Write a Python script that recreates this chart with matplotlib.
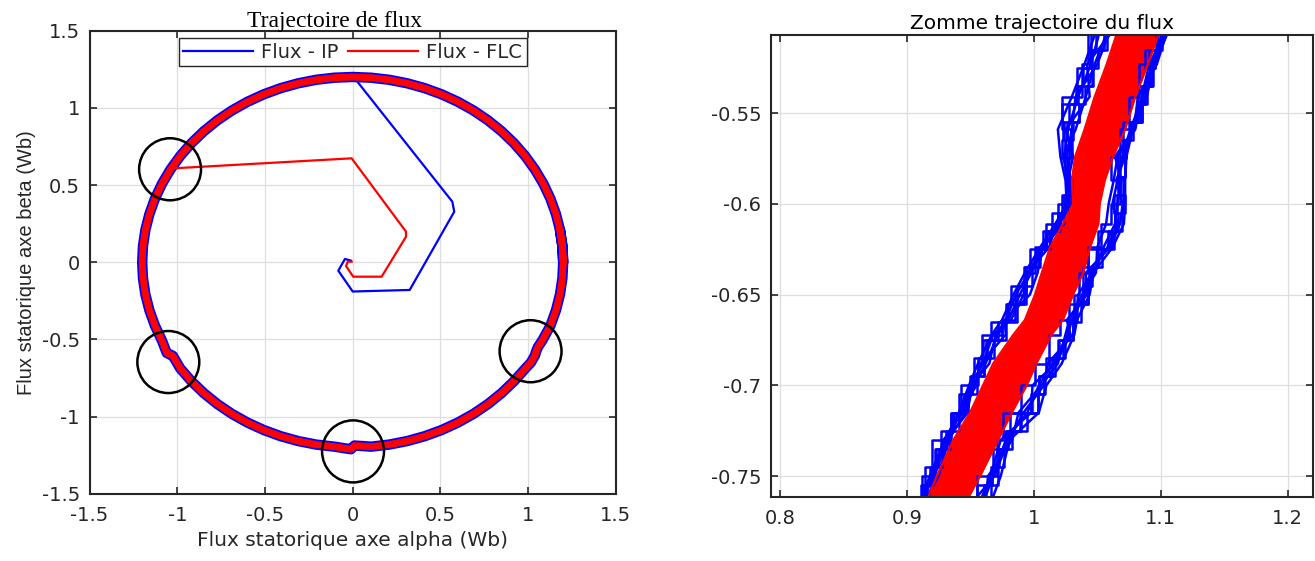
import matplotlib
matplotlib.use("Agg")
import matplotlib.pyplot as plt
from matplotlib.patches import Ellipse
from matplotlib.ticker import FormatStrFormatter

plt.rcParams['font.family'] = ['DejaVu Sans']
plt.rcParams['axes.unicode_minus'] = False

# ---------------- data ----------------
# steady-state stator flux orbit (alpha, beta) in Wb, one turn plus a short overlap
ring_alpha = [1.2000, 1.1954, 1.1818, 1.1591, 1.1276, 1.0876, 1.0392, 0.9830, 0.9193, 0.8485,
              0.7713, 0.6883, 0.6000, 0.5071, 0.4104, 0.3106, 0.2084, 0.1046, 0.0000,
              -0.1046, -0.2084, -0.3106, -0.4104, -0.5071, -0.6000, -0.6883, -0.7713,
              -0.8485, -0.9193, -0.9830, -1.0392, -1.0876, -1.1276, -1.1591, -1.1818,
              -1.1954, -1.2000, -1.1954, -1.1818, -1.1591, -1.1276, -1.0876,
              -1.060, -1.048, -1.025,
              -0.9830, -0.9193, -0.8485, -0.7713, -0.6883, -0.6000, -0.5071, -0.4104,
              -0.3106, -0.2084, -0.1046,
              -0.010, 0.010,
              0.1046, 0.2084, 0.3106, 0.4104, 0.5071, 0.6000, 0.6883, 0.7713, 0.8485, 0.9193,
              0.985, 1.016, 1.041, 1.043, 1.047, 1.056, 1.082,
              1.1276, 1.1591, 1.1818, 1.1954, 1.2000, 1.1954, 1.1818]
ring_beta = [0.0000, 0.1046, 0.2084, 0.3106, 0.4104, 0.5071, 0.6000, 0.6883, 0.7713, 0.8485,
             0.9193, 0.9830, 1.0392, 1.0876, 1.1276, 1.1591, 1.1818, 1.1954, 1.2000,
             1.1954, 1.1818, 1.1591, 1.1276, 1.0876, 1.0392, 0.9830, 0.9193,
             0.8485, 0.7713, 0.6883, 0.6000, 0.5071, 0.4104, 0.3106, 0.2084,
             0.1046, 0.0000, -0.1046, -0.2084, -0.3106, -0.4104, -0.5071,
             -0.588, -0.595, -0.607,
             -0.6883, -0.7713, -0.8485, -0.9193, -0.9830, -1.0392, -1.0876, -1.1276,
             -1.1591, -1.1818, -1.1954,
             -1.212, -1.188,
             -1.1954, -1.1818, -1.1591, -1.1276, -1.0876, -1.0392, -0.9830, -0.9193, -0.8485, -0.7713,
             -0.688, -0.650, -0.600, -0.587, -0.574, -0.550, -0.505,
             -0.4104, -0.3106, -0.2084, -0.1046, 0.0000, 0.1046, 0.2084]

# start-up transients
ip_start_alpha = [-0.010, -0.044, -0.082, 0.000, 0.325, 0.579, 0.568, 0.016]
ip_start_beta = [0.010, 0.021, -0.055, -0.190, -0.180, 0.327, 0.392, 1.185]
flc_start_alpha = [-0.006, -0.028, -0.038, 0.003, 0.165, 0.304, 0.304, -0.006, -1.023]
flc_start_beta = [0.003, 0.003, -0.025, -0.094, -0.094, 0.165, 0.198, 0.673, 0.608]

# highlighted sector changes
mark_alpha = [-1.041, -1.051, 0.002, 1.014]
mark_beta = [0.602, -0.647, -1.226, -0.577]

# zoomed region around the 330 degree sector change
zoom_beta = [-0.765, -0.750, -0.730, -0.715, -0.700, -0.688, -0.672, -0.664, -0.650, -0.638,
             -0.624, -0.611, -0.600, -0.587, -0.574, -0.559, -0.541, -0.523, -0.505]
flc_left = [0.915, 0.9236, 0.9367, 0.9498, 0.960, 0.968, 0.984, 0.993, 1.001, 1.0063,
            1.0128, 1.023, 1.031, 1.030, 1.0326, 1.040, 1.048, 1.0575, 1.066]
flc_right = [0.946, 0.9577, 0.972, 0.9827, 0.9945, 1.002, 1.014, 1.023, 1.031, 1.039,
             1.0443, 1.051, 1.052, 1.056, 1.0625, 1.072, 1.080, 1.090, 1.099]
ip_inner_traces = [
    [0.910, 0.918, 0.930, 0.941, 0.949, 0.956, 0.967, 0.975, 0.984, 0.993,
     1.005, 1.017, 1.026, 1.025, 1.021, 1.019, 1.030, 1.040, 1.049],
    [0.913, 0.925, 0.933, 0.946, 0.953, 0.962, 0.972, 0.980, 0.989, 0.998,
     1.008, 1.020, 1.028, 1.026, 1.024, 1.027, 1.035, 1.045, 1.052],
    [0.912, 0.920, 0.935, 0.943, 0.956, 0.959, 0.975, 0.985, 0.994, 1.001,
     1.010, 1.019, 1.029, 1.027, 1.029, 1.022, 1.038, 1.043, 1.055],
    [0.916, 0.922, 0.931, 0.948, 0.951, 0.965, 0.970, 0.978, 0.986, 0.996,
     1.006, 1.021, 1.027, 1.028, 1.023, 1.033, 1.041, 1.048, 1.058],
    [0.911, 0.921, 0.929, 0.944, 0.950, 0.960, 0.968, 0.982, 0.992, 0.995,
     1.012, 1.018, 1.030, 1.029, 1.026, 1.030, 1.033, 1.050, 1.060],
    [0.914, 0.919, 0.934, 0.941, 0.955, 0.958, 0.978, 0.977, 0.997, 1.003,
     1.007, 1.024, 1.025, 1.027, 1.031, 1.025, 1.044, 1.042, 1.062],
]
ip_outer_traces = [
    [0.966, 0.974, 0.981, 1.004, 1.010, 1.022, 1.032, 1.034, 1.044, 1.047,
     1.062, 1.071, 1.072, 1.072, 1.073, 1.078, 1.089, 1.095, 1.106],
    [0.960, 0.968, 0.978, 0.995, 1.004, 1.015, 1.027, 1.030, 1.040, 1.045,
     1.058, 1.066, 1.062, 1.066, 1.070, 1.076, 1.086, 1.093, 1.102],
    [0.955, 0.971, 0.976, 0.990, 1.001, 1.012, 1.021, 1.032, 1.036, 1.043,
     1.053, 1.061, 1.068, 1.061, 1.068, 1.075, 1.083, 1.096, 1.100],
    [0.962, 0.964, 0.983, 0.988, 1.006, 1.019, 1.025, 1.028, 1.038, 1.049,
     1.050, 1.057, 1.059, 1.063, 1.066, 1.080, 1.085, 1.091, 1.104],
    [0.957, 0.966, 0.974, 0.998, 0.999, 1.017, 1.029, 1.026, 1.042, 1.041,
     1.060, 1.068, 1.070, 1.065, 1.072, 1.077, 1.088, 1.094, 1.103],
    [0.951, 0.969, 0.980, 0.992, 1.008, 1.011, 1.031, 1.033, 1.035, 1.046,
     1.055, 1.064, 1.066, 1.069, 1.064, 1.079, 1.082, 1.097, 1.105],
]
# finely sampled switching traces (stair-like)
fine_beta = [-0.765, -0.755, -0.745, -0.735, -0.725, -0.715, -0.705, -0.695, -0.685,
             -0.675, -0.665, -0.655, -0.645, -0.635, -0.625, -0.615, -0.605, -0.595,
             -0.585, -0.575, -0.565, -0.555, -0.545, -0.535, -0.525, -0.515, -0.505]
ip_fine_traces = [
    [0.909, 0.916, 0.921, 0.929, 0.933, 0.942, 0.948, 0.954, 0.958, 0.968, 0.976, 0.984,
     0.989, 0.999, 1.005, 1.015, 1.023, 1.027, 1.026, 1.023, 1.021, 1.025, 1.030, 1.036,
     1.041, 1.047, 1.051],
    [0.912, 0.918, 0.924, 0.931, 0.937, 0.945, 0.952, 0.958, 0.964, 0.973, 0.983, 0.990,
     0.995, 1.002, 1.008, 1.017, 1.025, 1.029, 1.028, 1.027, 1.029, 1.033, 1.038, 1.043,
     1.049, 1.053, 1.058],
    [0.964, 0.969, 0.975, 0.978, 0.988, 1.001, 1.006, 1.012, 1.021, 1.029, 1.033, 1.041,
     1.044, 1.048, 1.059, 1.068, 1.071, 1.070, 1.071, 1.072, 1.074, 1.083, 1.087, 1.091,
     1.094, 1.097, 1.105],
    [0.958, 0.964, 0.970, 0.975, 0.984, 0.995, 1.001, 1.008, 1.016, 1.024, 1.030, 1.037,
     1.041, 1.046, 1.055, 1.062, 1.066, 1.065, 1.067, 1.069, 1.072, 1.080, 1.085, 1.090,
     1.093, 1.098, 1.103],
]
ip_box_traces = [
    [0.911, 0.914, 0.923, 0.927, 0.935, 0.941, 0.950, 0.953, 0.960, 0.966, 0.979, 0.982,
     0.992, 0.997, 1.010, 1.014, 1.024, 1.026, 1.027, 1.025, 1.024, 1.022, 1.034, 1.034,
     1.045, 1.045, 1.056],
    [0.913, 0.919, 0.922, 0.933, 0.936, 0.947, 0.951, 0.961, 0.962, 0.975, 0.978, 0.994,
     0.993, 1.004, 1.007, 1.019, 1.022, 1.030, 1.027, 1.030, 1.026, 1.036, 1.035, 1.047,
     1.046, 1.058, 1.060],
    [0.961, 0.967, 0.972, 0.979, 0.990, 0.999, 1.008, 1.010, 1.023, 1.027, 1.034, 1.039,
     1.045, 1.043, 1.061, 1.064, 1.072, 1.068, 1.072, 1.070, 1.076, 1.085, 1.085, 1.093,
     1.091, 1.098, 1.106],
    [0.955, 0.966, 0.968, 0.977, 0.981, 1.003, 1.004, 1.014, 1.019, 1.031, 1.028, 1.043,
     1.039, 1.050, 1.051, 1.066, 1.063, 1.071, 1.066, 1.073, 1.070, 1.084, 1.082, 1.094,
     1.088, 1.097, 1.100],
]

left_ticks = [-1.5, -1, -0.5, 0, 0.5, 1, 1.5]
zoom_xticks = [0.8, 0.9, 1.0, 1.1, 1.2]
zoom_yticks = [-0.75, -0.7, -0.65, -0.6, -0.55]

# ---------------- style ----------------
BLUE = (0, 0, 1)
RED = (1, 0, 0)
DARK = (0.15, 0.15, 0.15)
GRID = (0.87, 0.87, 0.87)
COARSE_STYLES = ['default', 'default', 'steps-pre', 'default', 'default', 'default']
TRACE_LW = 1.8


def matlab_axes(ax):
    ax.grid(True, color=GRID, lw=0.9)
    ax.set_axisbelow(True)
    for s in ax.spines.values():
        s.set_color(DARK)
        s.set_linewidth(1.5)
    ax.tick_params(direction='in', top=True, right=True, length=5, width=1.2,
                   color=DARK, labelcolor=DARK, labelsize=14)
    ax.tick_params(axis='x', pad=9)
    ax.tick_params(axis='y', pad=7)


fig = plt.figure(figsize=(13.15, 5.61), dpi=100)

# ---------------- left: full trajectory ----------------
ax1 = fig.add_axes([0.0681, 0.1200, 0.4002, 0.8253])
matlab_axes(ax1)
ring_kw = dict(solid_joinstyle='round', solid_capstyle='round')
ax1.plot(ip_start_alpha, ip_start_beta, color=BLUE, lw=1.6, label='Flux - IP')
ax1.plot(ring_alpha, ring_beta, color=BLUE, lw=7.5, **ring_kw)
ax1.plot(flc_start_alpha, flc_start_beta, color=RED, lw=1.6, label='Flux - FLC')
ax1.plot(ring_alpha, ring_beta, color=RED, lw=5.0, **ring_kw)

for a, b in zip(mark_alpha, mark_beta):
    ax1.add_patch(Ellipse((a, b), 0.353, 0.402, fill=False, ec='black', lw=1.8, zorder=5))

ax1.set_xlim(-1.5, 1.5)
ax1.set_ylim(-1.5, 1.5)
ax1.set_xticks(left_ticks)
ax1.set_yticks(left_ticks)
ax1.xaxis.set_major_formatter(FormatStrFormatter('%g'))
ax1.yaxis.set_major_formatter(FormatStrFormatter('%g'))
ax1.set_title('Trajectoire de flux', family='Liberation Serif', fontsize=17, pad=3, x=0.465)
ax1.set_xlabel('Flux statorique axe alpha (Wb)', fontsize=14.5, color=DARK, labelpad=4)
ax1.set_ylabel('Flux statorique axe beta (Wb)', family='Liberation Sans', fontsize=14.5,
               color=DARK, labelpad=4)
leg = ax1.legend(loc='upper center', ncol=2, fontsize=14, frameon=True, fancybox=False,
                 edgecolor=DARK, framealpha=1, borderaxespad=0.36, handlelength=3.6,
                 handletextpad=0.4, columnspacing=0.5, borderpad=0.25)
leg.get_frame().set_linewidth(1.0)
for t in leg.get_texts():
    t.set_color(DARK)

# ---------------- right: zoom ----------------
ax2 = fig.add_axes([0.5863, 0.1141, 0.4122, 0.8235])
matlab_axes(ax2)
for trace in ip_fine_traces:
    ax2.plot(trace, fine_beta, color=BLUE, lw=TRACE_LW, drawstyle='steps-mid')
for trace in ip_box_traces:
    ax2.plot(trace, fine_beta, color=BLUE, lw=TRACE_LW, drawstyle='steps-pre')
for trace, style in zip(ip_inner_traces, COARSE_STYLES):
    ax2.plot(trace, zoom_beta, color=BLUE, lw=TRACE_LW, drawstyle=style)
for trace, style in zip(ip_outer_traces, COARSE_STYLES):
    ax2.plot(trace, zoom_beta, color=BLUE, lw=TRACE_LW, drawstyle=style)
ax2.fill_betweenx(zoom_beta, flc_left, flc_right, color=RED, lw=0)
ax2.plot(flc_left, zoom_beta, color=RED, lw=1.6)
ax2.plot(flc_right, zoom_beta, color=RED, lw=1.6)

ax2.set_xlim(0.793, 1.22)
ax2.set_ylim(-0.7615, -0.507)
ax2.set_xticks(zoom_xticks)
ax2.set_yticks(zoom_yticks)
ax2.xaxis.set_major_formatter(FormatStrFormatter('%g'))
ax2.yaxis.set_major_formatter(FormatStrFormatter('%g'))
ax2.set_title('Zomme trajectoire du flux', fontsize=14.5, pad=4)

fig.savefig('out.png', dpi=100)
